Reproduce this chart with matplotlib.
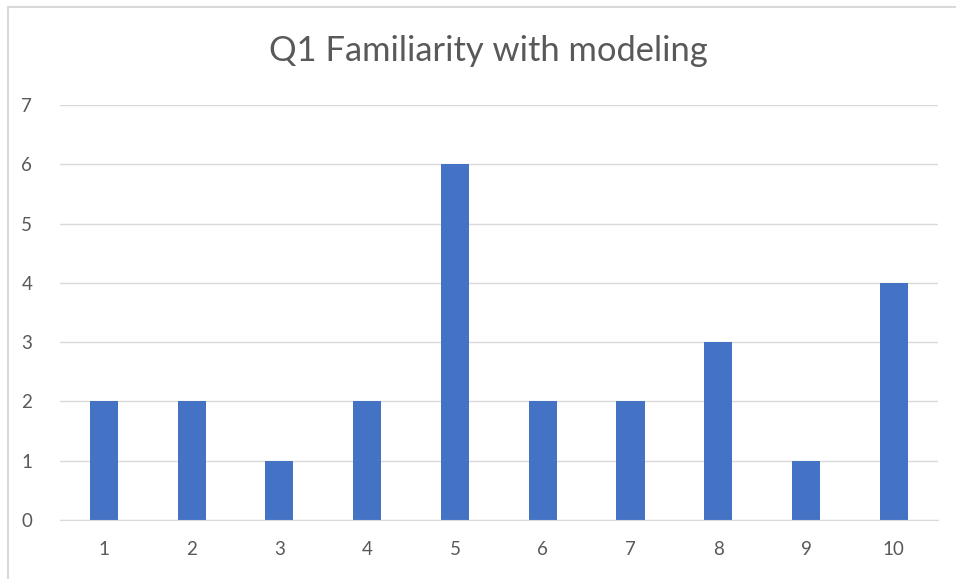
import matplotlib
matplotlib.use("Agg")
from matplotlib import pyplot as plt
from matplotlib.lines import Line2D

## chart data
categories = ["1", "2", "3", "4", "5", "6", "7", "8", "9", "10"]
counts = [2, 2, 1, 2, 6, 2, 2, 3, 1, 4]
y_ticks = [0, 1, 2, 3, 4, 5, 6, 7]

plt.rcParams['font.family'] = ['Lato', 'DejaVu Sans']

W, H = 956, 579
fig = plt.figure(figsize=(W / 100, H / 100), dpi=100)
ax = fig.add_axes([0.0628, 0.102, 0.918, 0.7165])

x = list(range(1, len(categories) + 1))
ax.bar(x, counts, width=0.32, color="#4472C4", zorder=3)

ax.set_xlim(0.5, len(categories) + 0.5)
ax.set_ylim(0, 7)
ax.set_xticks(x)
ax.set_xticklabels(categories)
ax.set_yticks(y_ticks)

# excel style gridlines and axes
ax.grid(axis="y", color="#d9d9d9", linewidth=1, zorder=0)
for side in ["top", "right", "left"]:
    ax.spines[side].set_visible(False)
ax.spines["bottom"].set_color("#d9d9d9")
ax.spines["bottom"].set_zorder(4)
ax.tick_params(axis="both", length=0, labelsize=13.5, labelcolor="#595959")
ax.tick_params(axis="y", pad=20)
ax.tick_params(axis="x", pad=15)

fig.text(488 / W, 1 - 51 / H, "Q1 Familiarity with modeling", ha="center", va="center",
         fontsize=24.8, color="#595959")

# chart border (only top and left edges are in view)
bx, by = 7.5 / W, 1 - 6.5 / H
fig.lines.append(Line2D([bx, 1], [by, by], transform=fig.transFigure,
                        color="#d9d9d9", linewidth=1.5))
fig.lines.append(Line2D([bx, bx], [0, by], transform=fig.transFigure,
                        color="#d9d9d9", linewidth=1.5))

fig.savefig("out.png", dpi=100)
